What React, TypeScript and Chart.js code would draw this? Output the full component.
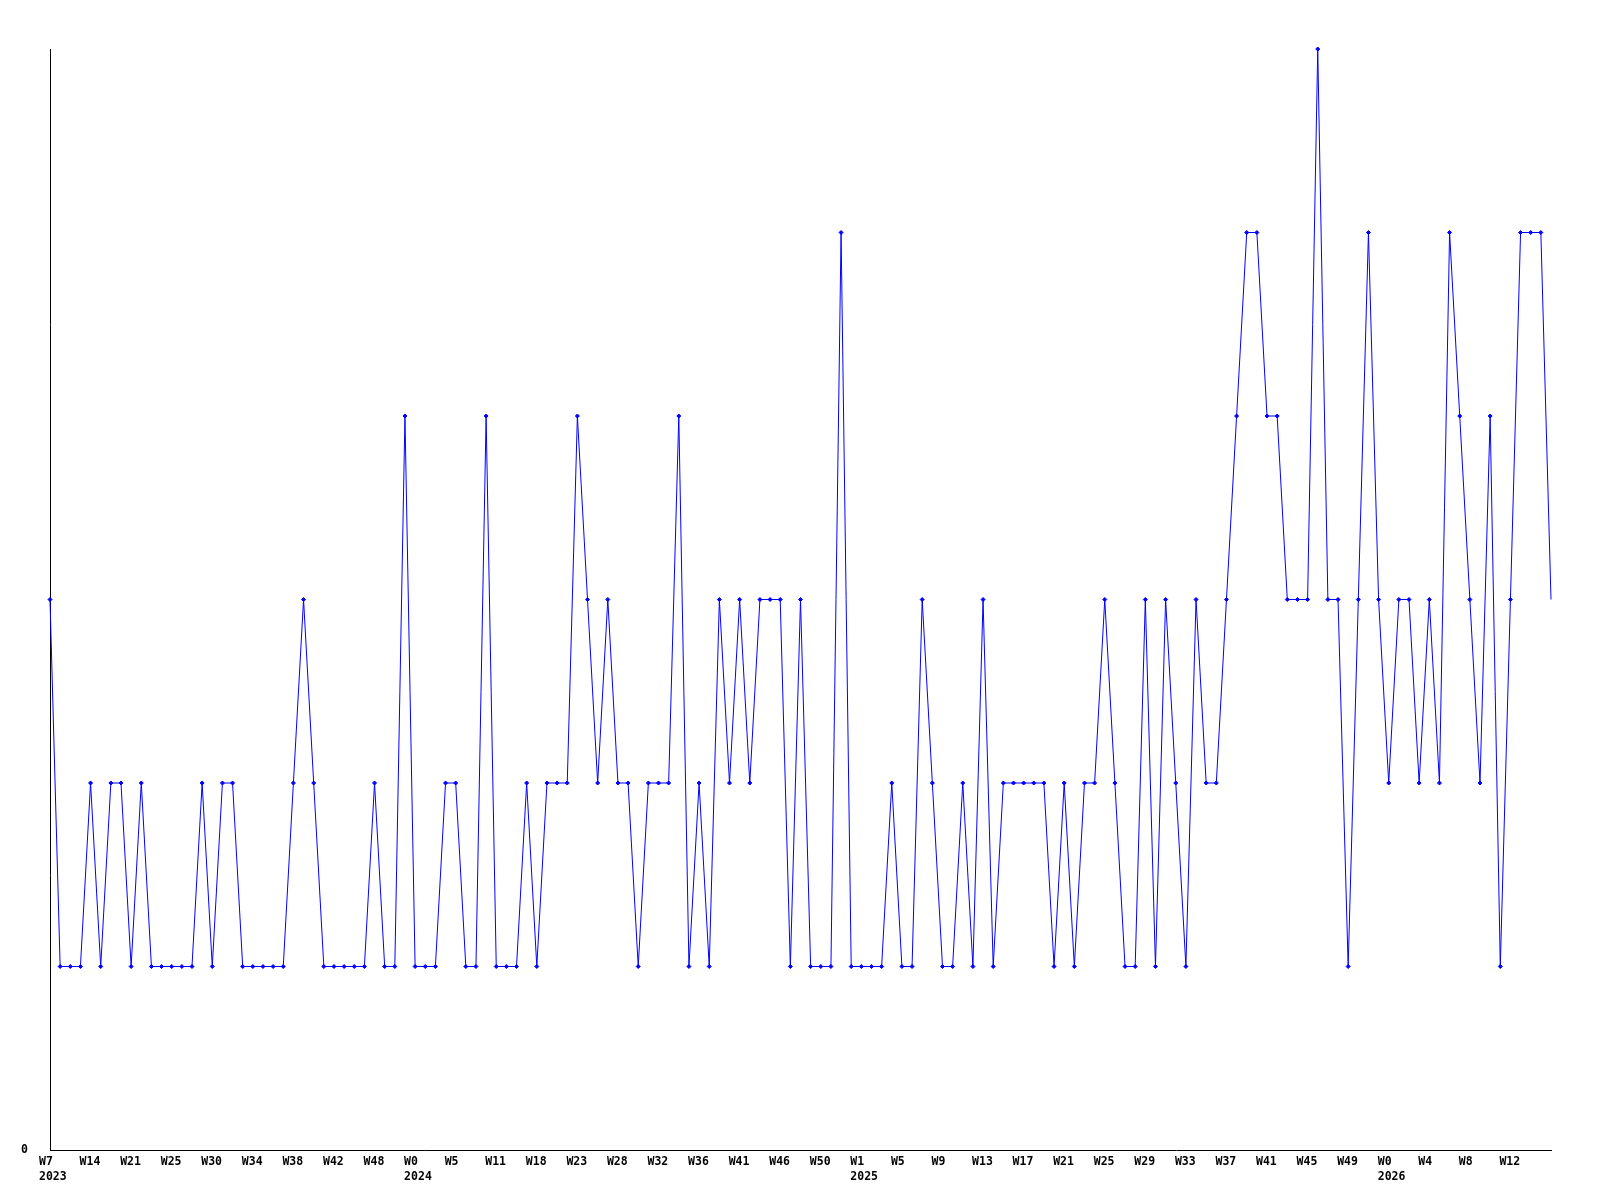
import React, { useEffect, useRef } from 'react';
import { Chart, registerables } from 'chart.js';

Chart.register(...registerables);

// Weekly values, one per data point (149 points)
const values: number[] = [
  3, 1, 1, 1, 2, 1, 2, 2, 1, 2,
  1, 1, 1, 1, 1, 2, 1, 2, 2, 1,
  1, 1, 1, 1, 2, 3, 2, 1, 1, 1,
  1, 1, 2, 1, 1, 4, 1, 1, 1, 2,
  2, 1, 1, 4, 1, 1, 1, 2, 1, 2,
  2, 2, 4, 3, 2, 3, 2, 2, 1, 2,
  2, 2, 4, 1, 2, 1, 3, 2, 3, 2,
  3, 3, 3, 1, 3, 1, 1, 1, 5, 1,
  1, 1, 1, 2, 1, 1, 3, 2, 1, 1,
  2, 1, 3, 1, 2, 2, 2, 2, 2, 1,
  2, 1, 2, 2, 3, 2, 1, 1, 3, 1,
  3, 2, 1, 3, 2, 2, 3, 4, 5, 5,
  4, 4, 3, 3, 3, 6, 3, 3, 1, 3,
  5, 3, 2, 3, 3, 2, 3, 2, 5, 4,
  3, 2, 4, 1, 3, 5, 5, 5, 3,
];

// Tick labels, shown every 4th point
const weekLabels: string[] = [
  'W7', 'W14', 'W21', 'W25', 'W30', 'W34', 'W38', 'W42', 'W48',
  'W0', 'W5', 'W11', 'W18', 'W23', 'W28', 'W32', 'W36', 'W41', 'W46', 'W50',
  'W1', 'W5', 'W9', 'W13', 'W17', 'W21', 'W25', 'W29', 'W33', 'W37', 'W41', 'W45', 'W49',
  'W0', 'W4', 'W8', 'W12',
];
const yearLabels: string[] = ['2023', '2024', '2025', '2026'];
const yearTickIndex: number[] = [0, 9, 20, 33];
const labelEvery = 4;
const yTickValues: number[] = [0];
const yMin = 0;
const yMax = 6;

export default function App() {
  const canvasRef = useRef<HTMLCanvasElement | null>(null);

  useEffect(() => {
    const canvas = canvasRef.current;
    if (!canvas) return;
    const font = { family: '"DejaVu Sans Mono", monospace', size: 11.5, weight: 'bold' as const, lineHeight: 1.3 };
    const chart = new Chart(canvas, {
      type: 'line',
      data: {
        datasets: [
          {
            data: values.map((v, i) => ({ x: i, y: v })),
            borderColor: '#0000ff',
            backgroundColor: '#0000ff',
            borderWidth: 1,
            pointStyle: 'rectRot',
            pointRadius: (ctx: any) => (ctx.dataIndex === values.length - 1 ? 0 : 2),
            pointBorderWidth: 1,
            pointBorderColor: '#0000ff',
            pointBackgroundColor: '#0000ff',
            tension: 0,
            clip: false,
          },
        ],
      },
      options: {
        animation: false,
        responsive: false,
        layout: { padding: { top: 49, right: 49, left: 0, bottom: 0 } },
        plugins: { legend: { display: false }, tooltip: { enabled: false } },
        scales: {
          x: {
            type: 'linear',
            min: 0,
            max: values.length - 1,
            grid: { display: false, drawTicks: false },
            border: { display: true, color: '#000000', width: 1 },
            afterBuildTicks: (scale: any) => {
              scale.ticks = weekLabels.map((_, k) => ({ value: k * labelEvery }));
            },
            afterFit: (scale: any) => {
              scale.height = 50;
            },
            ticks: {
              autoSkip: false,
              maxRotation: 0,
              minRotation: 0,
              align: 'start',
              labelOffset: -11,
              padding: 5,
              color: '#000000',
              font,
              callback: (value: any) => {
                const k = Math.round(Number(value) / labelEvery);
                const wl = weekLabels[k] ?? '';
                const yi = yearTickIndex.indexOf(k);
                return yi >= 0 ? [wl, yearLabels[yi]] : wl;
              },
            },
          },
          y: {
            min: yMin,
            max: yMax,
            grid: { display: false, drawTicks: false },
            border: { display: true, color: '#000000', width: 1 },
            afterBuildTicks: (scale: any) => {
              scale.ticks = yTickValues.map((v) => ({ value: v }));
            },
            afterFit: (scale: any) => {
              scale.width = 50;
            },
            ticks: {
              padding: 22,
              color: '#000000',
              font,
              callback: (value: any) => String(value),
            },
          },
        },
      },
    } as any);
    return () => chart.destroy();
  }, []);

  return (
    <div style={{ position: 'fixed', left: 0, top: 0, width: 1600, height: 1200, background: '#ffffff' }}>
      <canvas ref={canvasRef} width={1600} height={1200} style={{ width: 1600, height: 1200, display: 'block' }} />
    </div>
  );
}
